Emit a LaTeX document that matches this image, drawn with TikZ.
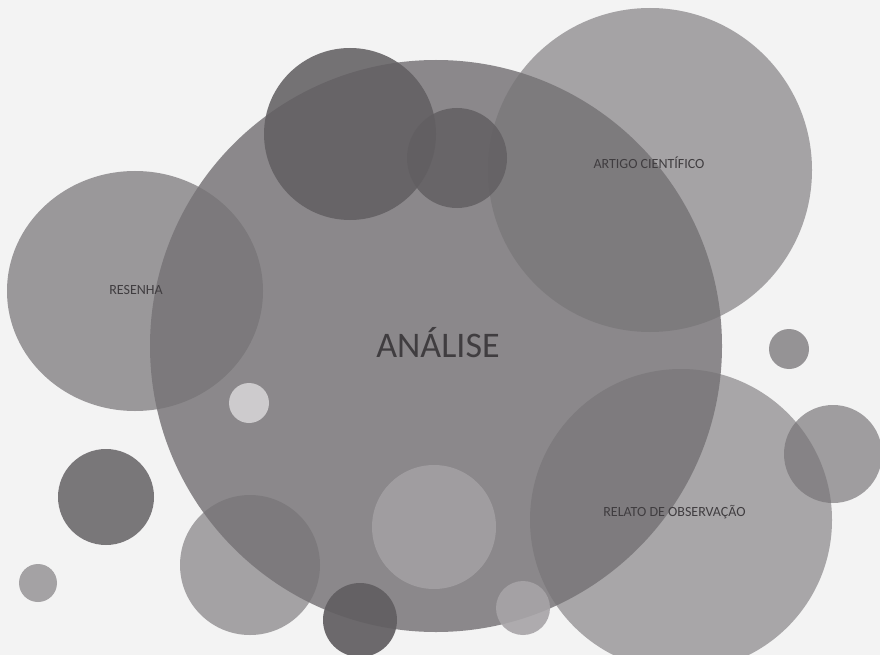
\documentclass[tikz,border=0pt]{standalone}
\usepackage{fontspec}
\setmainfont{Carlito}
\definecolor{paper}{RGB}{243,243,243}
\definecolor{bubble}{RGB}{118,115,118}
\definecolor{darkbubble}{RGB}{98,95,98}
\definecolor{palebubble}{RGB}{160,157,160}
\definecolor{ink}{RGB}{64,61,64}
\tikzset{
  blob/.style={fill=bubble, fill opacity=#1},
  blob/.default=0.7,
  lbl/.style={text=ink, font=\fontsize{14}{14}\selectfont, inner sep=0pt,
    text height=9pt, text depth=0pt},
}
\begin{document}
\begin{tikzpicture}[x=1pt,y=-1pt]
            \useasboundingbox (0,0) rectangle (880,655);
            \fill[paper] (0,0) rectangle (880,655);
            \clip (0,0) rectangle (880,655);
            % circles behind the big one
            \fill[blob=0.71] (135,291) ellipse [x radius=128pt, y radius=120pt]; % resenha
            \fill[blob=0.62] (650,170) circle (162pt);  % artigo
            \fill[blob=0.60] (681,520) circle (151pt);  % relato
            \fill[blob=0.63] (250,565) circle (70pt);
            \fill[blob=0.97] (106,497) circle (48pt);
            \fill[blob=0.63] (38,583) circle (19pt);
            \fill[blob=0.75] (789,349) circle (20pt);
            \fill[blob=0.67] (833,454) circle (49pt);
            % big one
            \fill[blob=0.83] (436,346) circle (286pt);  % analise
            % circles in front
            \fill[darkbubble, fill opacity=0.87] (350,134) circle (86pt);
            \fill[darkbubble, fill opacity=0.85] (457,158) circle (50pt);
            \fill[palebubble] (434,527) circle (62pt);
            \fill[fill={rgb,255:red,205;green,203;blue,205}] (249,403) circle (20pt);
            \fill[fill={rgb,255:red,167;green,164;blue,167}, fill opacity=0.9] (523,608) circle (27pt);
            \fill[darkbubble, fill opacity=0.93] (360,620) circle (37pt);
            % labels
            \node[lbl] (resenha) at (136,290) {RESENHA};
            \node[lbl] (artigo) at (649,164.5) {ARTIGO CIENTÍFICO};
            \node[lbl] (relato) at (674.5,511.5) {RELATO DE OBSERVAÇÃO};
            \node[lbl, font=\fontsize{36}{36}\selectfont, text height=23pt] (analise) at (438,346) {ANÁLISE};
        \end{tikzpicture}
\end{document}
